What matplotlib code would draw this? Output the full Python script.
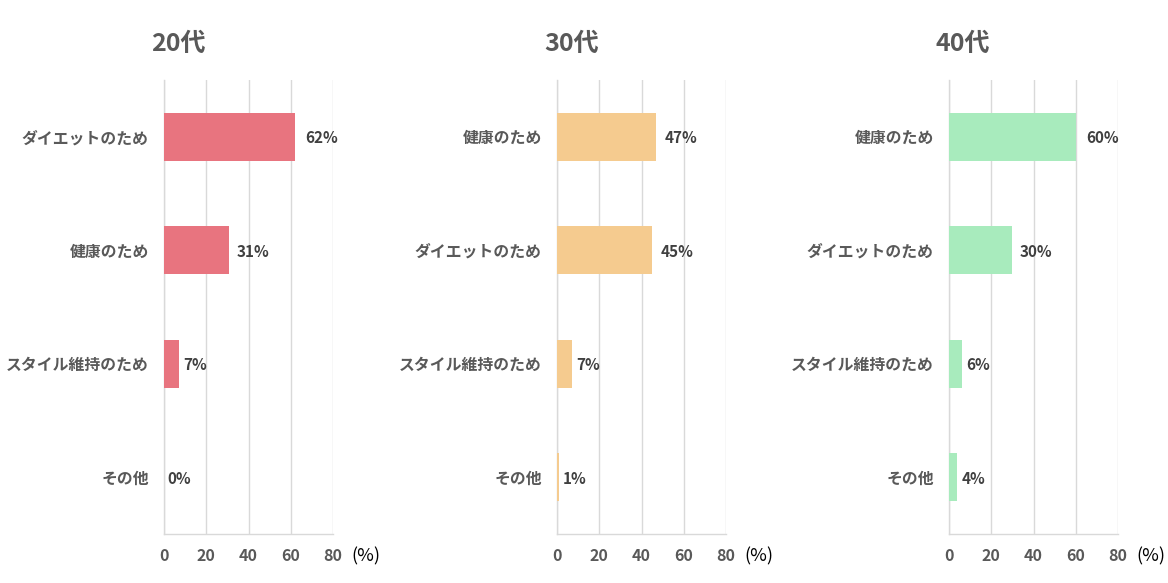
import matplotlib
matplotlib.use("Agg")
import matplotlib.pyplot as plt

plt.rcParams['font.family'] = ['Noto Sans CJK JP', 'DejaVu Sans']

titles = ["20代", "30代", "40代"]
cats_20 = ["ダイエットのため", "健康のため", "スタイル維持のため", "その他"]
vals_20 = [62, 31, 7, 0]
cats_30 = ["健康のため", "ダイエットのため", "スタイル維持のため", "その他"]
vals_30 = [47, 45, 7, 1]
cats_40 = ["健康のため", "ダイエットのため", "スタイル維持のため", "その他"]
vals_40 = [60, 30, 6, 4]
colors = ["#E8747F", "#F5CB8F", "#A8EBBD"]
xticks = [0, 20, 40, 60, 80]

panels = [(cats_20, vals_20), (cats_30, vals_30), (cats_40, vals_40)]

W, H = 1168, 583
fig = plt.figure(figsize=(W / 100, H / 100), dpi=100)

lefts = [164, 557, 949]
ax_w = 169
top_px, bot_px = 80, 534
grid_c = "#D9D9D9"
text_c = "#595959"

for i, (cats, vals) in enumerate(panels):
    ax = fig.add_axes([lefts[i] / W, 1 - bot_px / H, ax_w / W, (bot_px - top_px) / H])
    y = list(range(len(cats)))
    ax.barh(y, vals, height=0.42, color=colors[i], zorder=3)
    ax.set_ylim(len(cats) - 0.5, -0.5)
    ax.set_xlim(0, 80)
    ax.set_xticks(xticks)
    ax.set_xticklabels([str(t) for t in xticks], fontsize=11.5, fontweight="bold", color=text_c)
    ax.set_yticks(y)
    ax.set_yticklabels(cats, fontsize=11.4, fontweight="bold", color=text_c)
    ax.tick_params(axis="both", length=0)
    ax.tick_params(axis="x", pad=10)
    ax.tick_params(axis="y", pad=11)
    ax.grid(axis="x", color=grid_c, linewidth=1, zorder=0)
    for s in ["top", "right"]:
        ax.spines[s].set_visible(False)
    for s in ["left", "bottom"]:
        ax.spines[s].set_color(grid_c)
        ax.spines[s].set_linewidth(1)
    for yy, v in zip(y, vals):
        ax.text(v * 1.05 + 1.8, yy + 0.015, f"{v}%", va="center", ha="left",
                fontsize=11, fontweight="bold", color="#404040", zorder=4)
    fig.text((lefts[i] - 13) / W, 1 - 44 / H, titles[i], fontsize=18, fontweight="bold",
             color=text_c, ha="left", va="center")
    fig.text((lefts[i] + 187) / W, 1 - 556 / H, "(%)", fontsize=13, color="#000000",
             ha="left", va="center")

fig.savefig("out.png", dpi=100, facecolor="white")
